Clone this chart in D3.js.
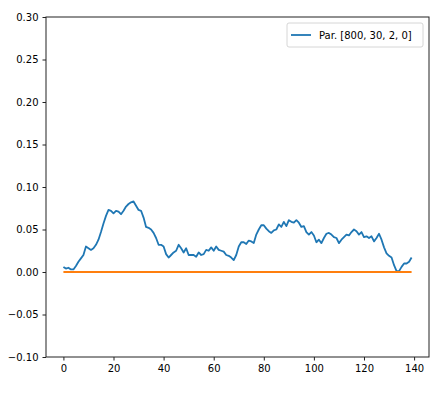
<!DOCTYPE html>
<html>
<head>
<meta charset="utf-8">
<script src="https://cdn.jsdelivr.net/npm/d3@7"></script>
<style>
  body { margin: 0; background: #fff; }
  svg text { font-family: "DejaVu Sans", sans-serif; font-size: 10px; fill: #000; }
</style>
</head>
<body>
<svg width="436" height="393"></svg>
<script>
const width = 436;
const height = 393;
const margin = { left: 46, right: 7, top: 17, bottom: 36 };

// blue series, one value per step
const seriesValues = [
  0.006, 0.004, 0.005, 0.003, 0.003, 0.007, 0.012, 0.016, 0.020, 0.030,
  0.028, 0.026, 0.028, 0.032, 0.038, 0.047, 0.057, 0.066, 0.073, 0.072,
  0.069, 0.072, 0.071, 0.068, 0.072, 0.077, 0.080, 0.082, 0.083, 0.078,
  0.073, 0.072, 0.064, 0.053, 0.052, 0.050, 0.046, 0.040, 0.032, 0.032,
  0.030, 0.021, 0.017, 0.020, 0.023, 0.025, 0.032, 0.028, 0.023, 0.028,
  0.020, 0.020, 0.020, 0.018, 0.023, 0.020, 0.021, 0.026, 0.025, 0.029,
  0.025, 0.030, 0.026, 0.025, 0.024, 0.020, 0.019, 0.017, 0.014, 0.020,
  0.030, 0.035, 0.035, 0.033, 0.037, 0.036, 0.034, 0.044, 0.050, 0.055,
  0.055, 0.051, 0.048, 0.046, 0.049, 0.050, 0.056, 0.053, 0.059, 0.054,
  0.061, 0.059, 0.058, 0.061, 0.058, 0.053, 0.054, 0.047, 0.044, 0.047,
  0.043, 0.035, 0.038, 0.034, 0.040, 0.045, 0.046, 0.044, 0.041, 0.040,
  0.034, 0.038, 0.041, 0.044, 0.043, 0.047, 0.050, 0.048, 0.044, 0.047,
  0.041, 0.042, 0.040, 0.042, 0.036, 0.040, 0.045, 0.038, 0.029, 0.022,
  0.019, 0.017, 0.008, 0.001, 0.001, 0.006, 0.010, 0.010, 0.012, 0.017
];
// orange baseline series
const baselineValues = seriesValues.map(() => 0);

const xTicks = [0, 20, 40, 60, 80, 100, 120, 140];
const yTicks = [-0.10, -0.05, 0.00, 0.05, 0.10, 0.15, 0.20, 0.25, 0.30];
const legendLabel = "Par. [800, 30, 2, 0]";

const svg = d3.select("svg");

const n = seriesValues.length - 1;
const x = d3.scaleLinear()
  .domain([-0.05 * n, n * 1.05])
  .range([margin.left, width - margin.right]);
const y = d3.scaleLinear()
  .domain([-0.10, 0.30])
  .range([height - margin.bottom, margin.top]);

const fmt = v => d3.format(".2f")(v).replace("-", "\u2212");

// axes
const xAxis = svg.append("g")
  .attr("transform", `translate(0,${height - margin.bottom})`)
  .call(d3.axisBottom(x).tickValues(xTicks).tickSize(3.5).tickPadding(4).tickFormat(d3.format("d")));
const yAxis = svg.append("g")
  .attr("transform", `translate(${margin.left},0)`)
  .call(d3.axisLeft(y).tickValues(yTicks).tickSize(3.5).tickPadding(4).tickFormat(fmt));

[xAxis, yAxis].forEach(g => {
  g.select(".domain").remove();
  g.selectAll("line").attr("stroke", "#222").attr("stroke-width", 1);
  g.selectAll("text").attr("font-family", "DejaVu Sans").attr("font-size", 10).attr("fill", "#222");
});

const line = d3.line()
  .x((d, i) => x(i))
  .y(d => y(d));

svg.append("path")
  .datum(seriesValues)
  .attr("fill", "none")
  .attr("stroke", "#1f77b4")
  .attr("stroke-width", 1.8)
  .attr("stroke-linejoin", "round")
  .attr("d", line);

svg.append("path")
  .datum(baselineValues)
  .attr("fill", "none")
  .attr("stroke", "#ff7f0e")
  .attr("stroke-width", 1.8)
  .attr("d", line);

// frame
svg.append("rect")
  .attr("x", margin.left)
  .attr("y", margin.top)
  .attr("width", width - margin.left - margin.right)
  .attr("height", height - margin.top - margin.bottom)
  .attr("fill", "none")
  .attr("stroke", "#222")
  .attr("stroke-width", 1);

// legend
const legend = svg.append("g").attr("transform", "translate(287,23)");
legend.append("rect")
  .attr("width", 136)
  .attr("height", 24)
  .attr("rx", 2)
  .attr("fill", "#fff")
  .attr("fill-opacity", 0.8)
  .attr("stroke", "#ccc")
  .attr("stroke-width", 0.8);
legend.append("line")
  .attr("x1", 4).attr("x2", 24)
  .attr("y1", 12).attr("y2", 12)
  .attr("stroke", "#1f77b4")
  .attr("stroke-width", 1.8);
legend.append("text")
  .attr("x", 32)
  .attr("y", 15.5)
  .attr("fill", "#222")
  .text(legendLabel);
</script>
</body>
</html>
